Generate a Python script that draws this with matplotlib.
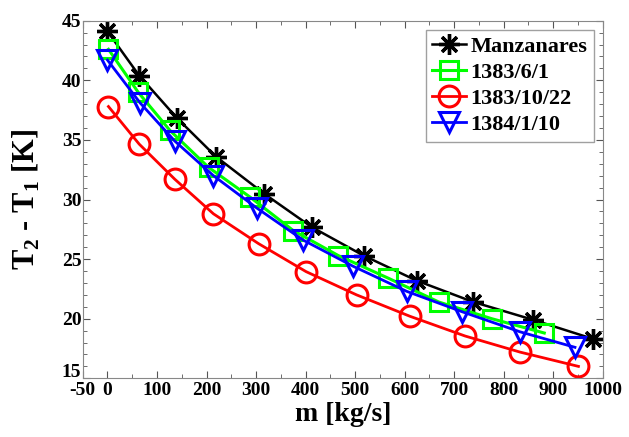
import matplotlib.pyplot as plt
from matplotlib.ticker import MultipleLocator, FuncFormatter

plt.rcParams['font.family'] = ['Liberation Serif', 'DejaVu Serif']
plt.rcParams['font.weight'] = 'bold'
plt.rcParams['axes.unicode_minus'] = False
plt.rcParams['mathtext.fontset'] = 'custom'
plt.rcParams['mathtext.rm'] = 'Liberation Serif:bold'
plt.rcParams['mathtext.bf'] = 'Liberation Serif:bold'

# Manzanares
m_man = [0, 64, 141, 219, 316, 412, 517, 624, 739, 860, 981]
t_man = [44.1, 40.4, 36.8, 33.6, 30.5, 27.7, 25.3, 23.2, 21.4, 19.9, 18.3]
# 1383/6/1
m_g = [2, 62, 126, 204, 288, 375, 466, 567, 669, 776, 882]
t_g = [42.6, 39.0, 35.8, 32.7, 30.2, 27.4, 25.3, 23.4, 21.4, 20.0, 18.8]
# 1383/10/22
m_r = [2, 64, 136, 214, 305, 401, 503, 611, 722, 833, 951]
t_r = [37.8, 34.65, 31.7, 28.8, 26.3, 23.95, 22.0, 20.2, 18.55, 17.2, 16.0]
# 1384/1/10
m_b = [0, 66, 136, 214, 301, 395, 496, 604, 715, 833, 944]
t_b = [41.7, 38.1, 34.9, 32.0, 29.3, 26.6, 24.4, 22.3, 20.6, 18.9, 17.6]

xticks = [-50, 0, 100, 200, 300, 400, 500, 600, 700, 800, 900, 1000]
ymin, ymax = 15, 45

fig = plt.figure(figsize=(6.29, 4.37), dpi=100)
ax = fig.add_axes([0.1315, 0.1343, 0.8267, 0.8183])

ax.plot(m_man, t_man, c='k', lw=1.8, marker=(8, 2, 0), ms=15, mew=2.4, label='Manzanares')
ax.plot(m_g, t_g, c='#00ff00', lw=2.2, marker='s', ms=13, mew=2.2, mfc='none', label='1383/6/1')
ax.plot(m_r, t_r, c='r', lw=2.0, marker='o', ms=15, mew=2.2, mfc='none', label='1383/10/22')
ax.plot(m_b, t_b, c='b', lw=2.0, marker='v', ms=14, mew=2.2, mfc='none', label='1384/1/10')

ax.set_xlim(-50, 1000)
ax.set_ylim(ymin, ymax)
ax.set_xticks(xticks)
ax.xaxis.set_minor_locator(MultipleLocator(50))
ax.yaxis.set_major_locator(MultipleLocator(5))
ax.yaxis.set_minor_locator(MultipleLocator(1))
# bottom y label drawn separately, nudged up so it clears "-50"
ax.yaxis.set_major_formatter(FuncFormatter(lambda v, p: '' if v == ymin else '%g' % v))
ax.annotate('%g' % ymin, xy=(0, ymin), xycoords=('axes fraction', 'data'),
            xytext=(-1.5, 4), textcoords='offset points', ha='right', va='center',
            fontsize=14, fontweight='bold')

ax.tick_params(which='both', direction='in', top=True, right=True, color='#555555')
ax.tick_params(which='major', length=5, labelsize=14)
ax.tick_params(axis='x', which='major', pad=3)
ax.tick_params(axis='y', which='major', pad=1)
ax.tick_params(which='minor', length=3)
for s in ax.spines.values():
    s.set_color('#888888')

ax.set_xlabel('m [kg/s]', fontsize=20, fontweight='bold', labelpad=2)
ax.set_ylabel('T$_\\mathbf{2}$ - T$_\\mathbf{1}$ [K]', fontsize=22, fontweight='bold', labelpad=14)

leg = ax.legend(loc='upper right', fontsize=16, handlelength=1.5, handletextpad=0.2,
                borderpad=0.3, labelspacing=0.25, fancybox=False, borderaxespad=0.4)
leg.get_frame().set_edgecolor('#888888')
leg.get_frame().set_linewidth(1.0)

fig.savefig('out.png', dpi=100)
